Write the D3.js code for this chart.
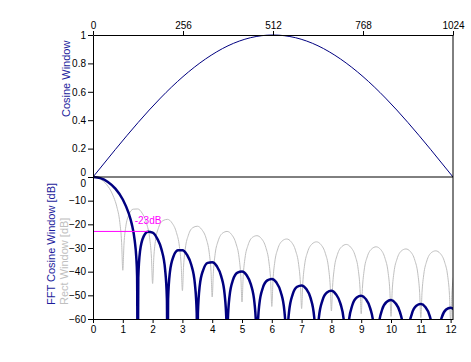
<!DOCTYPE html>
<html>
<head>
<meta charset="utf-8">
<script src="https://cdn.jsdelivr.net/npm/d3@7"></script>
<style>
  body { margin: 0; background: #fff; }
  svg { display: block; font-family: "Liberation Sans", Arial, sans-serif; }
  .axis text { font-size: 10px; fill: #000; font-family: "Liberation Sans", Arial, sans-serif; }
  .axis path, .axis line { stroke: #000; }
</style>
</head>
<body>
<svg id="chart" width="471" height="362"></svg>
<script>
// top panel: cosine window over samples
var winN = [0, 64, 128, 192, 256, 320, 384, 448, 512, 576, 640, 704, 768, 832, 896, 960, 1024];
var winVal = [0, 0.195, 0.383, 0.556, 0.707, 0.831, 0.924, 0.981, 1, 0.981, 0.924, 0.831, 0.707, 0.556, 0.383, 0.195, 0];

// bottom panel: FFT of cosine window (dB)
var fftF = [0, 0.25, 0.5, 0.75, 1.0, 1.2, 1.3, 1.4, 1.45, 1.48, 1.5,
  1.52, 1.58, 1.7, 1.85, 2.0, 2.15, 2.3, 2.42, 2.48, 2.5,
  2.52, 2.58, 2.7, 2.85, 3.0, 3.15, 3.3, 3.42, 3.48, 3.5,
  3.52, 3.58, 3.7, 3.85, 4.0, 4.15, 4.3, 4.42, 4.48, 4.5,
  4.52, 4.58, 4.7, 4.85, 5.0, 5.15, 5.3, 5.42, 5.48, 5.5,
  5.52, 5.58, 5.7, 5.85, 6.0, 6.15, 6.3, 6.42, 6.48, 6.5,
  6.52, 6.58, 6.7, 6.85, 7.0, 7.15, 7.3, 7.42, 7.48, 7.5,
  7.52, 7.58, 7.7, 7.85, 8.0, 8.15, 8.3, 8.42, 8.48, 8.5,
  8.52, 8.58, 8.7, 8.85, 9.0, 9.15, 9.3, 9.42, 9.48, 9.5,
  9.52, 9.58, 9.7, 9.85, 10.0, 10.15, 10.3, 10.42, 10.48, 10.5,
  10.52, 10.58, 10.7, 10.85, 11.0, 11.15, 11.3, 11.42, 11.48, 11.5,
  11.52, 11.58, 11.7, 11.85, 12.0, 12.15];
var fftDb = [0, -0.5, -2.1, -4.9, -9.5, -15.4, -19.8, -26.9, -33.5, -41.8, -90,
  -42.4, -31.2, -25.1, -23.1, -23.5, -25.9, -30.7, -39.1, -51.5, -90,
  -51.7, -40.3, -33.6, -31.0, -30.9, -32.8, -37.2, -45.3, -57.5, -90,
  -57.7, -46.1, -39.2, -36.3, -36.0, -37.6, -41.9, -49.9, -62.0, -90,
  -62.1, -50.5, -43.4, -40.4, -39.9, -41.4, -45.5, -53.4, -65.5, -90,
  -65.7, -53.9, -46.8, -43.7, -43.1, -44.5, -48.6, -56.4, -68.5, -90,
  -68.6, -56.8, -49.6, -46.4, -45.8, -47.2, -51.1, -58.9, -71.0, -90,
  -71.1, -59.3, -52.1, -48.8, -48.1, -49.5, -53.4, -61.1, -73.2, -90,
  -73.2, -61.5, -54.2, -50.9, -50.2, -51.5, -55.4, -63.1, -75.1, -90,
  -75.2, -63.4, -56.1, -52.8, -52.0, -53.3, -57.1, -64.8, -76.8, -90,
  -76.9, -65.1, -57.8, -54.4, -53.7, -54.9, -58.8, -66.4, -78.4, -90,
  -78.5, -66.7, -59.4, -56.0, -55.2, -56.4];

// rect window (grey)
var rectF = [0, 0.2, 0.4, 0.5, 0.6, 0.7, 0.8, 0.9, 0.96, 1.0,
  1.04, 1.1, 1.2, 1.35, 1.5, 1.65, 1.8, 1.9, 1.96, 2.0,
  2.04, 2.1, 2.2, 2.35, 2.5, 2.65, 2.8, 2.9, 2.96, 3.0,
  3.04, 3.1, 3.2, 3.35, 3.5, 3.65, 3.8, 3.9, 3.96, 4.0,
  4.04, 4.1, 4.2, 4.35, 4.5, 4.65, 4.8, 4.9, 4.96, 5.0,
  5.04, 5.1, 5.2, 5.35, 5.5, 5.65, 5.8, 5.9, 5.96, 6.0,
  6.04, 6.1, 6.2, 6.35, 6.5, 6.65, 6.8, 6.9, 6.96, 7.0,
  7.04, 7.1, 7.2, 7.35, 7.5, 7.65, 7.8, 7.9, 7.96, 8.0,
  8.04, 8.1, 8.2, 8.35, 8.5, 8.65, 8.8, 8.9, 8.96, 9.0,
  9.04, 9.1, 9.2, 9.35, 9.5, 9.65, 9.8, 9.9, 9.96, 10.0,
  10.04, 10.1, 10.2, 10.35, 10.5, 10.65, 10.8, 10.9, 10.96, 11.0,
  11.04, 11.1, 11.2, 11.35, 11.5, 11.65, 11.8, 11.9, 11.96, 12.0,
  12.04, 12.1, 12.2];
var rectDb = [0, -0.6, -2.4, -3.9, -5.9, -8.7, -12.6, -19.2, -27.6, -39.4,
  -28.3, -21.0, -16.1, -13.6, -13.5, -15.3, -19.7, -25.7, -33.8, -45.0,
  -34.1, -26.6, -21.4, -18.4, -17.9, -19.4, -23.5, -29.4, -37.4, -48.0,
  -37.6, -30.0, -24.6, -21.4, -20.8, -22.2, -26.1, -32.0, -39.9, -50.7,
  -40.1, -32.4, -27.0, -23.7, -23.0, -24.3, -28.2, -33.9, -41.9, -52.8,
  -42.0, -34.3, -28.9, -25.5, -24.8, -26.0, -29.8, -35.6, -43.5, -54.7,
  -43.6, -35.9, -30.4, -27.0, -26.2, -27.4, -31.2, -36.9, -44.8, -55.6,
  -44.9, -37.2, -31.7, -28.3, -27.4, -28.6, -32.4, -38.1, -46.0, -56.6,
  -46.1, -38.3, -32.8, -29.4, -28.5, -29.7, -33.4, -39.1, -47.0, -57.8,
  -47.1, -39.3, -33.8, -30.4, -29.5, -30.6, -34.4, -40.1, -47.9, -58.9,
  -48.0, -40.2, -34.7, -31.2, -30.4, -31.5, -35.2, -40.9, -48.7, -59.4,
  -48.8, -41.1, -35.5, -32.0, -31.2, -32.3, -36.0, -41.7, -49.5, -61.0,
  -49.6, -41.8, -36.3];

var topTicks = [0, 256, 512, 768, 1024];
var winTicks = [0, 0.2, 0.4, 0.6, 0.8, 1];
var dbTicks = [0, -10, -20, -30, -40, -50, -60];
var freqTicks = [0, 1, 2, 3, 4, 5, 6, 7, 8, 9, 10, 11, 12];
var sidelobe = -23;

var svg = d3.select('#chart');
var L = 93, R = 453, T = 35, M = 177, B = 319;

var xN = d3.scaleLinear().domain([0, 1024]).range([L, R]);
var yW = d3.scaleLinear().domain([0, 1]).range([M, T]);
var xF = d3.scaleLinear().domain([0, 12.08]).range([L, R]);
var yDb = d3.scaleLinear().domain([0, -60]).range([M, B]);

var defs = svg.append('defs');
defs.append('clipPath').attr('id', 'clipTop')
  .append('rect').attr('x', L).attr('y', T - 3).attr('width', R - L).attr('height', M - T + 3);
defs.append('clipPath').attr('id', 'clipBot')
  .append('rect').attr('x', L).attr('y', M - 3).attr('width', R - L).attr('height', B - M + 3);

// grey rect window
svg.append('path')
  .datum(d3.zip(rectF, rectDb))
  .attr('clip-path', 'url(#clipBot)')
  .attr('fill', 'none')
  .attr('stroke', '#c0c0c0')
  .attr('stroke-width', 1)
  .attr('d', d3.line().x(function(d) { return xF(d[0]); }).y(function(d) { return yDb(d[1]); })
    .curve(d3.curveMonotoneX));

// navy fft
svg.append('path')
  .datum(d3.zip(fftF, fftDb))
  .attr('clip-path', 'url(#clipBot)')
  .attr('fill', 'none')
  .attr('stroke', '#000080')
  .attr('stroke-width', 2.5)
  .attr('d', d3.line().x(function(d) { return xF(d[0]); }).y(function(d) { return yDb(d[1]); })
    .curve(d3.curveMonotoneX));

// -23dB marker
svg.append('line')
  .attr('x1', xF(0)).attr('x2', xF(1.85))
  .attr('y1', yDb(sidelobe)).attr('y2', yDb(sidelobe))
  .attr('stroke', '#ff00ff').attr('stroke-width', 1);
svg.append('text')
  .attr('x', xF(1.4)).attr('y', yDb(-19.9))
  .attr('fill', '#ff00ff').attr('font-size', 10)
  .text(sidelobe + 'dB');

// top cosine window
svg.append('path')
  .datum(d3.zip(winN, winVal))
  .attr('clip-path', 'url(#clipTop)')
  .attr('fill', 'none')
  .attr('stroke', '#000080')
  .attr('stroke-width', 1)
  .attr('d', d3.line().x(function(d) { return xN(d[0]); }).y(function(d) { return yW(d[1]); })
    .curve(d3.curveNatural));

// frame lines
svg.append('line').attr('x1', R).attr('x2', R).attr('y1', T).attr('y2', B).attr('stroke', '#000');
svg.append('line').attr('x1', L).attr('x2', R).attr('y1', M).attr('y2', M).attr('stroke', '#000');

// axes
svg.append('g').attr('class', 'axis').attr('transform', 'translate(0,' + T + ')')
  .call(d3.axisTop(xN).tickValues(topTicks).tickSize(4).tickPadding(2).tickSizeOuter(0)
    .tickFormat(d3.format('d')));
svg.append('g').attr('class', 'axis').attr('transform', 'translate(' + L + ',0)')
  .call(d3.axisLeft(yW).tickValues(winTicks).tickSize(5).tickPadding(2).tickSizeOuter(0)
    .tickFormat(d3.format('')))
  .selectAll('.tick text')
  .attr('dy', function(d) { return d === 0 ? '-0.2em' : '0.32em'; });
svg.append('g').attr('class', 'axis').attr('transform', 'translate(' + L + ',0)')
  .call(d3.axisLeft(yDb).tickValues(dbTicks).tickSize(5).tickPadding(2).tickSizeOuter(0))
  .selectAll('.tick text')
  .attr('dy', function(d) { return d === 0 ? '0.95em' : '0.32em'; });
svg.append('g').attr('class', 'axis').attr('transform', 'translate(0,' + B + ')')
  .call(d3.axisBottom(xF).tickValues(freqTicks).tickSize(4).tickPadding(3).tickSizeOuter(0));

// axis titles
svg.append('text')
  .attr('transform', 'translate(70,117) rotate(-90)')
  .attr('fill', '#1c1c9c').attr('font-size', 11)
  .text('Cosine Window');
svg.append('text')
  .attr('transform', 'translate(55,305) rotate(-90)')
  .attr('fill', '#1c1c9c').attr('font-size', 11)
  .text('FFT Cosine Window [dB]');
svg.append('text')
  .attr('transform', 'translate(68,305) rotate(-90)')
  .attr('fill', '#c0c0c0').attr('font-size', 11)
  .text('Rect Window [dB]');
</script>
</body>
</html>
